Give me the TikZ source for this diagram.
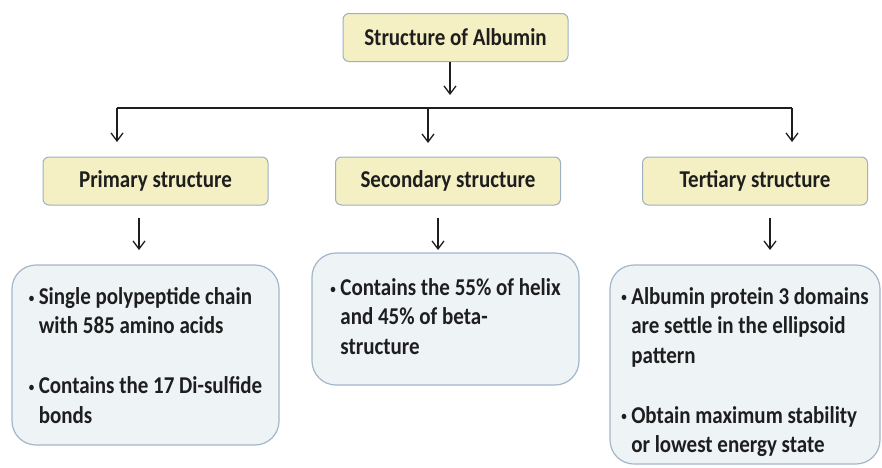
\documentclass[tikz,border=0pt]{standalone}
\usepackage{fontspec}
\usepackage{graphicx}
\setmainfont{Carlito}
\usetikzlibrary{arrows.meta}
\definecolor{ylfill}{HTML}{F5F0C3}
\definecolor{ylline}{HTML}{9DB0C4}
\definecolor{blfill}{HTML}{EEF3F6}
\definecolor{blline}{HTML}{A3B6CA}
\definecolor{ink}{HTML}{1E1E1E}
\newcommand\bul{\makebox[10pt][l]{\raisebox{2pt}{\fontsize{11}{11}\selectfont •}}}
\newcommand\vs[1]{\scalebox{1}[1.15]{#1}}
\begin{document}
\begin{tikzpicture}[x=1pt,y=-1pt,
 head/.style={draw=ylline, fill=ylfill, line width=1pt, rounded corners=6pt, minimum width=225pt, minimum height=48pt, inner sep=0pt, font=\bfseries\fontsize{21}{25}\selectfont, text=ink},
 info/.style={draw=blline, fill=blfill, line width=1.2pt, rounded corners=24pt, inner sep=0pt, font=\bfseries\fontsize{21}{25.65}\selectfont, text=ink},
 arr/.style={draw=ink, line width=1.3pt, -{Straight Barb[length=8pt,width=12pt]}},
 bus/.style={draw=ink, line width=1.3pt}]
\useasboundingbox (0,0) rectangle (882,467);
\node[head] (top) at (455.5,37.5) {\vs{Structure of Albumin}};
\node[head] (p) at (155.5,181) {\vs{Primary structure}};
\node[head] (s) at (448,181) {\vs{Secondary structure}};
\node[head] (t) at (755,181) {\vs{Tertiary structure}};
\node[info, minimum width=267pt, minimum height=180pt] (pd) at (145.5,355)
 {\raisebox{-3pt}[\height][\depth]{\vs{\begin{tabular}{@{}l@{}l@{}}\bul & Single polypeptide chain\\ & with 585 amino acids\\[26.5pt] \bul & Contains the 17 Di-sulfide\\ & bonds\end{tabular}}}};
\node[info, minimum width=267pt, minimum height=132pt] (sd) at (445.5,319)
 {\vs{\begin{tabular}{@{}l@{}l@{}}\bul & Contains the 55\% of helix\\ & and 45\% of beta-\\ & structure\end{tabular}}};
\node[info, minimum width=270pt, minimum height=199pt] (td) at (745,364.5)
 {\raisebox{-8pt}[\height][\depth]{\vs{\begin{tabular}{@{}l@{}l@{}}\bul & Albumin protein 3 domains\\ & are settle in the ellipsoid\\ & pattern\\[26.5pt] \bul & Obtain maximum stability\\ & or lowest energy state\end{tabular}}}};
\coordinate (j) at (450,95);
\coordinate (bl) at (117,108);
\coordinate (br) at (792,108);
\coordinate (bm) at (428,108);
\coordinate (pa) at (117,142);
\coordinate (sa) at (428,143);
\coordinate (ta) at (792,142);
\coordinate (pb) at (139,250);
\coordinate (sb) at (438,250);
\coordinate (tb) at (770,250);
\draw[arr] (top.south -| j) -- (j);
\draw[bus] (bl) -- (br);
\draw[arr] (bl) -- (pa);
\draw[arr] (bm) -- (sa);
\draw[arr] (br) -- (ta);
\draw[arr, shorten <=12pt] (p.south -| pb) -- (pb);
\draw[arr, shorten <=12pt] (s.south -| sb) -- (sb);
\draw[arr, shorten <=12pt] (t.south -| tb) -- (tb);
\end{tikzpicture}
\end{document}
